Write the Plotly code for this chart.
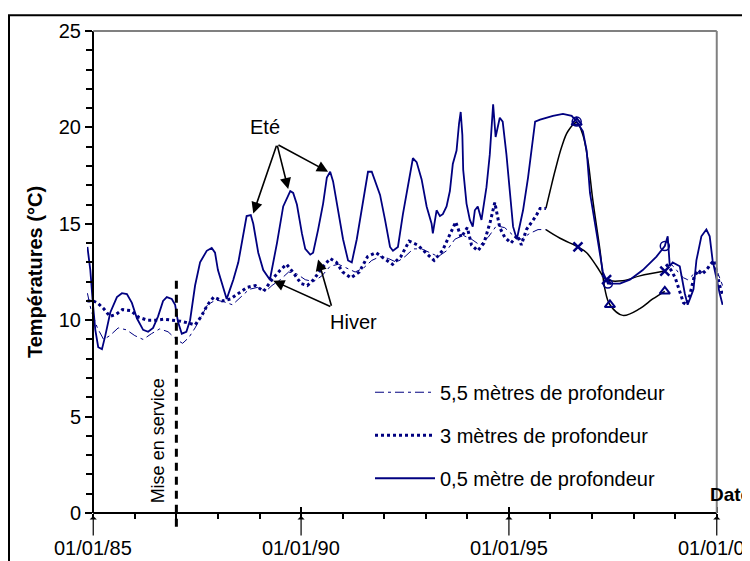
import plotly.graph_objects as go

# ---- data (decimal years, °C) ----
yr_05 = [1984.86, 1984.93, 1984.99, 1985.05, 1985.12, 1985.21, 1985.29, 1985.41, 1985.57, 1985.69,
         1985.81, 1985.93, 1986.05, 1986.2, 1986.32, 1986.44, 1986.56, 1986.68, 1986.77, 1986.89,
         1986.97, 1987.04, 1987.13, 1987.24, 1987.33, 1987.45, 1987.57, 1987.73, 1987.85, 1987.93,
         1988.0, 1988.13, 1988.21, 1988.29, 1988.37, 1988.49, 1988.61, 1988.69, 1988.79, 1988.85,
         1988.97, 1989.09, 1989.25, 1989.42, 1989.57, 1989.74, 1989.81, 1989.9, 1990.02, 1990.1,
         1990.22, 1990.29, 1990.41, 1990.53, 1990.62, 1990.7, 1990.77, 1990.89, 1991.01, 1991.13,
         1991.22, 1991.34, 1991.49, 1991.61, 1991.7, 1991.78, 1991.9, 1992.02, 1992.14, 1992.21,
         1992.33, 1992.45, 1992.57, 1992.69, 1992.78, 1992.9, 1993.02, 1993.14, 1993.17, 1993.26,
         1993.34, 1993.41, 1993.5, 1993.58, 1993.65, 1993.74, 1993.8, 1993.84, 1993.88, 1993.9,
         1993.98, 1994.06, 1994.13, 1994.18, 1994.25, 1994.34, 1994.46, 1994.54, 1994.62, 1994.68,
         1994.78, 1994.85, 1994.94, 1995.02, 1995.1, 1995.19, 1995.26, 1995.34, 1995.46, 1995.55,
         1995.63, 1995.75, 1996.06, 1996.3, 1996.51, 1996.63, 1996.78, 1996.87, 1996.95, 1997.11,
         1997.26, 1997.38, 1997.67, 1997.91, 1998.22, 1998.55, 1998.75, 1998.82, 1998.87, 1998.94,
         1999.11, 1999.23, 1999.3, 1999.37, 1999.44, 1999.51, 1999.63, 1999.75, 1999.83, 1999.9,
         1999.99, 2000.07, 2000.14]
t_05 = [13.8, 12.6, 10.9, 9.5, 8.6, 8.5, 9.2, 10.4, 11.2, 11.4,
        11.35, 10.9, 10.1, 9.5, 9.4, 9.6, 10.2, 11.0, 11.2, 11.1,
        10.8, 9.9, 9.3, 9.4, 10.0, 11.8, 13.0, 13.6, 13.75, 13.5,
        12.6, 11.6, 11.1, 11.6, 12.1, 13.0, 14.4, 15.4, 15.45, 15.0,
        13.5, 12.6, 12.1, 14.0, 15.9, 16.7, 16.6, 16.0, 14.5, 13.7,
        13.4, 13.5, 14.7, 16.05, 17.4, 17.7, 17.2, 15.7, 14.2, 13.1,
        13.0, 14.2, 16.05, 17.7, 17.7, 17.2, 16.5, 15.2, 13.8, 13.6,
        13.8, 15.5, 17.0, 18.4, 18.2, 17.3, 15.9, 15.0, 14.5, 15.7,
        15.4, 15.5, 15.9, 16.7, 18.1, 18.8, 20.2, 20.8, 19.6, 17.8,
        16.05, 15.2, 14.85, 15.7, 15.9, 15.2, 16.9, 18.6, 21.2, 19.5,
        20.5, 20.3, 18.6, 16.6, 14.85, 14.2, 14.85, 15.7, 17.4, 19.1,
        20.3, 20.4, 20.6, 20.7, 20.6, 20.3, 19.8, 18.8, 16.6, 14.5,
        12.5, 11.9, 11.9, 12.1, 12.6, 13.3, 13.85, 14.35, 12.8, 13.0,
        12.8, 11.4, 10.8, 11.2, 11.6, 13.1, 14.35, 14.7, 14.35, 13.1,
        12.1, 11.4, 10.8]

yr_3 = [1984.86, 1985.0, 1985.1, 1985.25, 1985.4, 1985.55, 1985.7, 1985.9, 1986.1, 1986.3,
        1986.5, 1986.7, 1986.9, 1987.1, 1987.3, 1987.45, 1987.6, 1987.75, 1987.9, 1988.1,
        1988.3, 1988.5, 1988.7, 1988.9, 1989.1, 1989.3, 1989.5, 1989.65, 1989.8, 1990.0,
        1990.15, 1990.3, 1990.5, 1990.7, 1990.85, 1991.0, 1991.2, 1991.4, 1991.6, 1991.8,
        1992.0, 1992.2, 1992.4, 1992.6, 1992.8, 1993.0, 1993.2, 1993.4, 1993.6, 1993.72,
        1993.85, 1994.0, 1994.1, 1994.25, 1994.4, 1994.55, 1994.66, 1994.78, 1994.9, 1995.05,
        1995.2, 1995.3, 1995.42, 1995.55, 1995.65, 1995.75, 1995.89, None,
        1998.78, 1998.9, 1999.0, 1999.1, 1999.2, 1999.27, 1999.35, 1999.45, 1999.55, 1999.65,
        1999.75, 1999.85, 1999.93, 2000.0, 2000.07, 2000.14]
t_3 = [11.0, 11.0, 10.9, 10.6, 10.2, 10.3, 10.55, 10.5, 10.15, 10.0,
       10.0, 10.05, 10.0, 9.95, 9.85, 9.75, 10.2, 10.8, 11.2, 11.0,
       11.1, 11.4, 11.7, 11.8, 11.5, 12.1, 12.6, 12.9, 12.5, 11.9,
       11.8, 12.1, 12.7, 13.2, 13.0, 12.5, 12.2, 12.5, 13.3, 13.5,
       13.2, 12.9, 13.3, 14.1, 13.9, 13.5, 13.1, 13.6, 14.5, 15.1,
       14.3, 14.8, 13.9, 13.6, 14.0, 15.1, 16.1, 14.8, 14.3, 14.0,
       14.4, 13.9, 14.7, 15.1, 15.4, 15.8, 15.8, None,
       12.9, 12.6, 12.2, 11.5, 10.9, 10.8, 11.3, 12.2, 12.6, 12.4,
       12.6, 12.9, 13.1, 12.5, 11.8, 11.3]

yr_55 = [1984.86, 1984.95, 1985.1, 1985.25, 1985.4, 1985.6, 1985.8, 1986.0, 1986.2, 1986.4,
         1986.6, 1986.8, 1987.0, 1987.15, 1987.3, 1987.45, 1987.6, 1987.75, 1987.95, 1988.15,
         1988.35, 1988.55, 1988.75, 1988.95, 1989.15, 1989.3, 1989.5, 1989.7, 1989.9, 1990.1,
         1990.3, 1990.5, 1990.7, 1990.9, 1991.1, 1991.3, 1991.5, 1991.7, 1991.9, 1992.1,
         1992.3, 1992.5, 1992.7, 1992.9, 1993.1, 1993.3, 1993.5, 1993.7, 1993.9, 1994.1,
         1994.3, 1994.5, 1994.7, 1994.9, 1995.1, 1995.3, 1995.5, 1995.7, 1995.89, None,
         1998.78, 1998.9, 1999.0, 1999.1, 1999.2, 1999.3, 1999.4, 1999.5, 1999.6, 1999.7,
         1999.8, 1999.9, 2000.0, 2000.07, 2000.14]
t_55 = [11.4, 10.5, 9.6, 9.0, 9.2, 9.6, 9.5, 9.2, 9.0, 9.3,
        9.55, 9.4, 9.0, 8.8, 9.1, 9.6, 10.2, 10.8, 11.05, 10.95,
        10.8, 11.2, 11.6, 11.7, 11.5, 11.8, 12.1, 12.5, 12.4, 12.1,
        12.0, 12.3, 12.8, 12.9, 12.7, 12.5, 12.7, 13.1, 13.3, 13.2,
        13.0, 13.3, 13.7, 13.7, 13.5, 13.3, 13.6, 14.2, 14.4, 14.2,
        13.9, 14.3, 14.9, 14.8, 14.4, 14.2, 14.5, 14.7, 14.7, None,
        12.8, 12.9, 12.7, 12.4, 12.2, 12.1, 12.3, 12.5, 12.4, 12.6,
        12.7, 12.9, 12.6, 12.2, 11.8]

# spot measurements 1996-1998
spot_a_yr = [1995.89, 1995.99, 1996.11, 1996.27, 1996.42, 1996.63, 1996.78, 1996.9, 1997.02,
             1997.19, 1997.31, 1997.43, 1997.74, 1998.15, 1998.46, 1998.75]
spot_a_t = [15.8, 16.7, 17.75, 19.0, 19.8, 20.25, 19.6, 18.3, 16.2,
            13.65, 11.6, 10.8, 10.25, 10.6, 11.1, 11.5]
spot_b_yr = [1995.89, 1996.23, 1996.66, 1996.87, 1997.11, 1997.35, 1997.74, 1998.15, 1998.75]
spot_b_t = [14.7, 14.25, 13.8, 13.5, 12.8, 12.1, 12.05, 12.3, 12.55]
tri_yr = [1996.63, 1997.43, 1998.75]
tri_t = [20.25, 10.8, 11.5]
cross_yr = [1996.66, 1997.35, 1998.75]
cross_t = [13.8, 12.1, 12.55]
circ_yr = [1996.63, 1997.38, 1998.75]
circ_t = [20.3, 11.9, 13.85]

tick_years = [1985, 1990, 1995, 2000]
tick_text = ["01/01/85", "01/01/90", "01/01/95", "01/01/00"]

assert len(yr_05) == len(t_05) and len(yr_3) == len(t_3) and len(yr_55) == len(t_55)

NAVY = "#000080"
FONT = "Arial, Liberation Sans, sans-serif"
FS = 20

fig = go.Figure()

fig.add_trace(go.Scatter(x=spot_a_yr, y=spot_a_t, mode="lines", line=dict(color="black", width=1.5, shape="spline"),
                         showlegend=False))
fig.add_trace(go.Scatter(x=spot_b_yr, y=spot_b_t, mode="lines", line=dict(color="black", width=1.5, shape="spline"),
                         showlegend=False))

fig.add_trace(go.Scatter(x=yr_55, y=t_55, mode="lines", name="5,5 mètres de profondeur",
                         line=dict(color=NAVY, width=1, dash="9px,4px,3px,4px"),
                         legendgroup="a", legendrank=1))
fig.add_trace(go.Scatter(x=yr_3, y=t_3, mode="lines", name="3 mètres de profondeur",
                         line=dict(color=NAVY, width=3, dash="3px,3px"),
                         legendgroup="b", legendrank=2))
fig.add_trace(go.Scatter(x=yr_05, y=t_05, mode="lines", name="0,5 mètre de profondeur",
                         line=dict(color=NAVY, width=1.8),
                         legendgroup="c", legendrank=3))

fig.add_trace(go.Scatter(x=tri_yr, y=tri_t, mode="markers", showlegend=False,
                         marker=dict(symbol="triangle-up-open", size=9, color=NAVY, line=dict(width=2))))
fig.add_trace(go.Scatter(x=cross_yr, y=cross_t, mode="markers", showlegend=False,
                         marker=dict(symbol="x-thin-open", size=9, color=NAVY, line=dict(width=2.5, color=NAVY))))
fig.add_trace(go.Scatter(x=circ_yr, y=circ_t, mode="markers", showlegend=False,
                         marker=dict(symbol="circle-open", size=9, color=NAVY, line=dict(width=1.5))))

# page is drawn with an 8px body offset; helpers take page pixels
OFF = 8
L, R, T, B = 79, 35, 17, 56
W, H = 750, 561
pw, ph = W - L - R, H - T - B
x_lo, x_hi = 1984.85, 2000.15


def px_x(px):
    return (px - OFF - L) / pw


def px_y(py):
    return 1 - (py - OFF - T) / ph


shapes = [
    # outer frame
    dict(type="rect", xref="paper", yref="paper", x0=px_x(9), x1=px_x(800), y0=px_y(620), y1=px_y(9),
         line=dict(color="black", width=2)),
    # x axis line
    dict(type="line", xref="x", yref="paper", x0=1985, x1=2000, y0=0, y1=0, line=dict(color="black", width=2)),
    # grey plot border (top, right)
    dict(type="line", xref="x", yref="paper", x0=1985, x1=2000, y0=1, y1=1, line=dict(color="#808080", width=2)),
    dict(type="line", xref="x", yref="paper", x0=2000, x1=2000, y0=0, y1=1, line=dict(color="#808080", width=2)),
    # start of service
    dict(type="line", xref="x", yref="paper", x0=1987, x1=1987, y0=px_y(527), y1=px_y(272),
         line=dict(color="black", width=3, dash="8px,6px")),
]

annotations = []
for yv, txt in zip(tick_years, tick_text):
    annotations.append(dict(x=yv, y=0, xref="x", yref="y", text=txt, showarrow=True, ax=0, ay=35,
                            arrowhead=1, arrowsize=1, arrowwidth=1.2, arrowcolor="black", standoff=3,
                            font=dict(size=FS, color="black")))

ete_tail = (1989.42, 19.13)
for tx, ty in [(1988.85, 15.54), (1989.69, 16.8), (1990.65, 17.7)]:
    annotations.append(dict(x=tx, y=ty, ax=ete_tail[0], ay=ete_tail[1], xref="x", yref="y", axref="x", ayref="y",
                            text="", showarrow=True, arrowhead=2, arrowsize=1.4, arrowwidth=1.6, arrowcolor="black"))
hiver_tail = (1990.74, 10.67)
for tx, ty in [(1989.33, 12.05), (1990.41, 13.15)]:
    annotations.append(dict(x=tx, y=ty, ax=hiver_tail[0], ay=hiver_tail[1], xref="x", yref="y", axref="x", ayref="y",
                            text="", showarrow=True, arrowhead=2, arrowsize=1.4, arrowwidth=1.6, arrowcolor="black"))
annotations += [
    dict(x=1989.13, y=20.0, xref="x", yref="y", text="Eté", showarrow=False, font=dict(size=FS)),
    dict(x=1991.25, y=9.9, xref="x", yref="y", text="Hiver", showarrow=False, font=dict(size=FS)),
    dict(x=1986.55, y=3.75, xref="x", yref="y", text="Mise en service", textangle=-90, showarrow=False,
         font=dict(size=18)),
    dict(x=1999.8, y=0.97, xref="x", yref="y", text="<b>Date</b>", xanchor="left", showarrow=False,
         font=dict(size=19)),
]

fig.update_layout(
    width=W, height=H,
    margin=dict(l=L, r=R, t=T, b=B),
    paper_bgcolor="white", plot_bgcolor="white",
    font=dict(family=FONT, size=FS, color="black"),
    showlegend=True,
    legend=dict(x=px_x(370), y=px_y(371), xanchor="left", yanchor="top", bgcolor="rgba(0,0,0,0)",
                itemwidth=60, tracegroupgap=14, font=dict(size=FS)),
    xaxis=dict(range=[x_lo, x_hi], showgrid=False, zeroline=False, showline=False,
               tickvals=tick_years, showticklabels=False, ticks="inside", ticklen=6, tickwidth=2,
               tickcolor="black",
               minor=dict(dtick=1, ticks="outside", ticklen=5, tickwidth=2, tickcolor="black")),
    yaxis=dict(range=[0, 25], anchor="free", position=px_x(93), showgrid=False, zeroline=False,
               showline=True, linecolor="black", linewidth=2,
               dtick=5, ticks="outside", ticklen=7, tickwidth=2, tickcolor="black",
               minor=dict(dtick=1, ticks="outside", ticklen=6, tickwidth=1.5, tickcolor="black"),
               tickfont=dict(size=FS),
               title=dict(text="<b>Températures (°C)</b>", font=dict(size=FS), standoff=10)),
    shapes=shapes,
    annotations=annotations,
)

fig.write_html("out.html")
